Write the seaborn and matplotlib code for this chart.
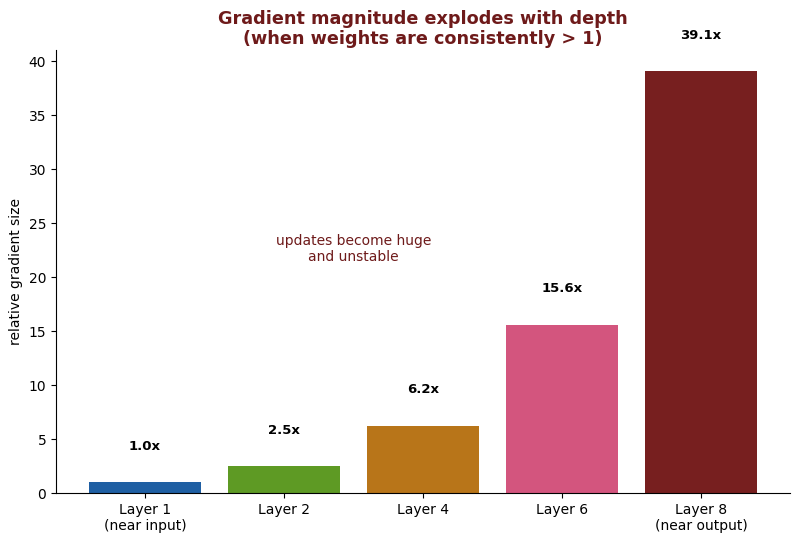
import matplotlib
matplotlib.use("Agg")
import matplotlib.pyplot as plt
import seaborn as sns
import pandas as pd

# values
layers = ["Layer 1\n(near input)", "Layer 2", "Layer 4", "Layer 6", "Layer 8\n(near output)"]
grad_size = [1.0, 2.5, 6.25, 15.6, 39.1]
bar_labels = ["1.0x", "2.5x", "6.2x", "15.6x", "39.1x"]
colors = ["#1f5fa3", "#5e9a24", "#b87519", "#d3557e", "#771f1f"]

plt.rcParams['font.family'] = ['DejaVu Sans']

df = pd.DataFrame({"layer": layers, "size": grad_size})

fig, ax = plt.subplots(figsize=(8, 5.43), dpi=100)
sns.barplot(data=df, x="layer", y="size", hue="layer", palette=colors,
            legend=False, width=0.8, saturation=1, ax=ax)

top = max(grad_size)
for i, (v, lab) in enumerate(zip(grad_size, bar_labels)):
    ax.text(i, v + top * 0.07, lab, ha="center", va="bottom",
            fontsize=9.5, fontweight="bold", color="black")

ax.text(1.5, 22.6, "updates become huge\nand unstable", ha="center", va="center",
        fontsize=10, color="#6e1a1a")

ax.set_title("Gradient magnitude explodes with depth\n(when weights are consistently > 1)",
             fontsize=12.7, fontweight="bold", color="#6e1a1a", pad=4)
ax.set_ylabel("relative gradient size", fontsize=10)
ax.set_xlabel("")
ax.set_xlim(-0.64, 4.64)
ax.set_ylim(0, top * 1.05)
ax.tick_params(axis="both", labelsize=10)
sns.despine(ax=ax)

fig.subplots_adjust(left=0.07, right=0.9875, top=0.908, bottom=0.092)
plt.savefig("out.png", dpi=100)
